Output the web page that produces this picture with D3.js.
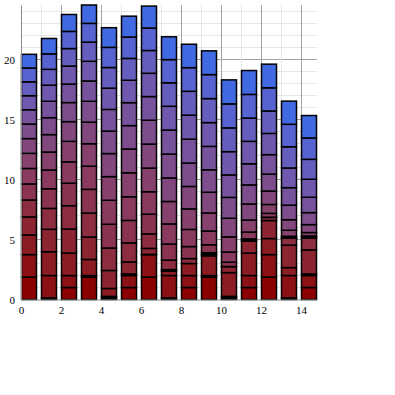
<!DOCTYPE html>
<html>
<head>
<meta charset="utf-8">
<script src="https://d3js.org/d3.v7.min.js"></script>
<style>
  body { margin: 0; background: #fff; }
  svg text { font-family: "Liberation Serif", "DejaVu Serif", serif; font-size: 11px; fill: #000; }
</style>
</head>
<body>
<svg id="chart" width="395" height="395"></svg>
<script>
// x categories (one bar each)
const samples = [0, 1, 2, 3, 4, 5, 6, 7, 8, 9, 10, 11, 12, 13, 14];

// stacked layers, bottom (dark red) to top (blue), one value per bar
const layer0  = [1.87, 0.13, 1.00, 1.87, 0.13, 1.00, 1.87, 0.13, 1.00, 1.87, 0.13, 1.00, 1.87, 0.13, 1.00];
const layer1  = [1.87, 1.87, 1.00, 0.13, 0.13, 1.00, 1.87, 1.87, 1.00, 0.13, 0.13, 1.00, 1.87, 1.87, 1.00];
const layer2  = [1.64, 1.98, 1.87, 1.34, 0.66, 0.13, 0.02, 0.36, 1.00, 1.64, 1.98, 1.87, 1.34, 0.66, 0.13];
const layer3  = [1.50, 1.87, 2.00, 1.87, 1.50, 1.00, 0.50, 0.13, 0.00, 0.13, 0.50, 1.00, 1.50, 1.87, 2.00];
const layer4  = [1.41, 1.74, 1.95, 1.99, 1.87, 1.59, 1.21, 0.79, 0.41, 0.13, 0.01, 0.05, 0.26, 0.59, 1.00];
const layer5  = [1.34, 1.64, 1.87, 1.98, 1.98, 1.87, 1.64, 1.34, 1.00, 0.66, 0.36, 0.13, 0.02, 0.02, 0.13];
const layer6  = [1.29, 1.56, 1.78, 1.93, 2.00, 1.97, 1.87, 1.68, 1.43, 1.15, 0.85, 0.57, 0.32, 0.13, 0.03];
const layer7  = [1.26, 1.50, 1.71, 1.87, 1.97, 2.00, 1.97, 1.87, 1.71, 1.50, 1.26, 1.00, 0.74, 0.50, 0.29];
const layer8  = [1.23, 1.45, 1.64, 1.80, 1.92, 1.98, 2.00, 1.96, 1.87, 1.73, 1.55, 1.34, 1.12, 0.88, 0.66];
const layer9  = [1.21, 1.41, 1.59, 1.74, 1.87, 1.95, 1.99, 1.99, 1.95, 1.87, 1.74, 1.59, 1.41, 1.21, 1.00];
const layer10 = [1.19, 1.37, 1.54, 1.69, 1.81, 1.91, 1.97, 2.00, 1.99, 1.95, 1.87, 1.76, 1.62, 1.46, 1.28];
const layer11 = [1.17, 1.34, 1.50, 1.64, 1.77, 1.87, 1.94, 1.98, 2.00, 1.98, 1.94, 1.87, 1.77, 1.64, 1.50];
const layer12 = [1.16, 1.32, 1.46, 1.60, 1.72, 1.82, 1.90, 1.96, 1.99, 2.00, 1.98, 1.94, 1.87, 1.77, 1.66];
const layer13 = [1.15, 1.29, 1.43, 1.56, 1.68, 1.78, 1.87, 1.93, 1.97, 2.00, 2.00, 1.97, 1.93, 1.87, 1.78];
const layer14 = [1.14, 1.28, 1.41, 1.53, 1.64, 1.74, 1.83, 1.90, 1.95, 1.98, 2.00, 1.99, 1.97, 1.93, 1.87];

const layers = [layer0, layer1, layer2, layer3, layer4, layer5, layer6, layer7,
                layer8, layer9, layer10, layer11, layer12, layer13, layer14];

const xTicks = [0, 2, 4, 6, 8, 10, 12, 14];
const yTicks = [0, 5, 10, 15, 20];

const colorpel = { bottom: 'darkred', top: 'royalblue', minor: '#e6e6e6', major: '#a3a3a3', axis: '#8c8c8c' };

const plotL = 21, plotR = 317, plotT = 5, plotB = 299.5;

// table for d3.stack
const keys = layers.map((l, i) => 'l' + i);
const rows = samples.map((s, j) => {
    let r = { x: s };
    layers.forEach((l, i) => r[keys[i]] = l[j]);
    return r;
});
const series = d3.stack().keys(keys)(rows);

const x = d3.scaleLinear().domain([0, samples.length - 1 + 0.8]).range([plotL, plotR]);
const y = d3.scaleLinear().domain([0, d3.max(series[series.length - 1], d => d[1])]).range([plotB, plotT]);
const color = d3.scaleLinear().domain([0, keys.length - 1])
    .range([colorpel.bottom, colorpel.top]).interpolate(d3.interpolateLab);

const svg = d3.select('#chart');

// grid: minor every unit, major at the labelled ticks
let grid = svg.append('g').attr('class', 'grid').attr('shape-rendering', 'crispEdges');
const yMinor = y.ticks(25).filter(v => v > 0);
grid.selectAll('line.hminor').data(yMinor).enter().append('line')
    .attr('x1', plotL).attr('x2', plotR)
    .attr('y1', d => y(d)).attr('y2', d => y(d))
    .attr('stroke', d => yTicks.includes(d) ? colorpel.major : colorpel.minor);
grid.selectAll('line.vminor').data(samples.filter(v => v > 0)).enter().append('line')
    .attr('y1', plotT).attr('y2', plotB)
    .attr('x1', d => x(d)).attr('x2', d => x(d))
    .attr('stroke', d => xTicks.includes(d) ? colorpel.major : colorpel.minor);

// stacked bars
let g_bars = svg.append('g').attr('class', 'bars');
let layerG = g_bars.selectAll('g').data(series).enter().append('g')
    .attr('fill', (d, i) => color(i));
layerG.selectAll('rect').data(d => d).enter().append('rect')
    .attr('x', d => x(d.data.x) + 0.5)
    .attr('width', x(0.8) - x(0) - 1)
    .attr('y', d => y(d[1]))
    .attr('height', d => y(d[0]) - y(d[1]))
    .attr('stroke', '#000')
    .attr('stroke-width', 1.5);

// axes
let xAxis = svg.append('g').attr('transform', `translate(0,${plotB})`)
    .call(d3.axisBottom(x).tickValues(xTicks).tickSize(0).tickPadding(7));
xAxis.select('.domain').attr('stroke', colorpel.axis);
let yAxis = svg.append('g').attr('transform', `translate(${plotL},0)`)
    .call(d3.axisLeft(y).tickValues(yTicks).tickSize(0).tickPadding(6));
yAxis.select('.domain').attr('stroke', colorpel.axis);
svg.selectAll('.tick text').attr('font-family', null).attr('font-size', null);
</script>
</body>
</html>
